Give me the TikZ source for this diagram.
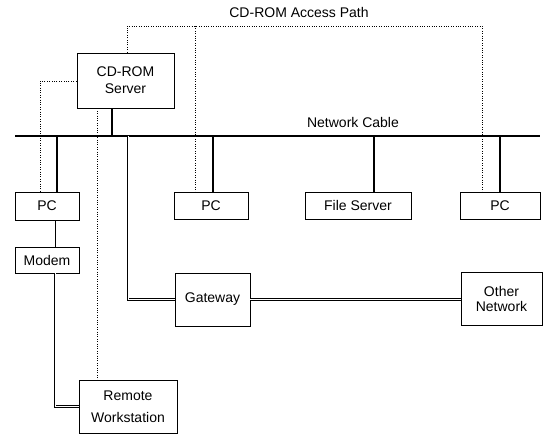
\documentclass[tikz,border=0pt]{standalone}
\usepackage{fontspec}
\setmainfont{Liberation Sans}
\begin{document}
\begin{tikzpicture}[x=1pt,y=-1pt,
  box/.style={draw,line width=0.8pt,inner sep=0pt,align=center,font=\fontsize{14}{17}\selectfont},
  lbl/.style={inner sep=0pt,font=\fontsize{14}{17}\selectfont},
  cable/.style={line width=2.4pt},
  tap/.style={line width=1.5pt},
  thin/.style={line width=0.9pt},
  dpath/.style={line width=0.9pt,dash pattern=on 1pt off 1.4pt},
  dbl/.style={line width=0.7pt,double,double distance=1pt}]
\useasboundingbox (0,0) rectangle (547,435);
% boxes
\node[box,minimum width=97pt,minimum height=55pt] (cdrom) at (125.5,80.5) {CD-ROM\\Server};
\node[box,minimum width=64pt,minimum height=28pt] (pc1) at (47,206) {PC};
\node[box,minimum width=74pt,minimum height=27pt] (pc2) at (211,205.5) {PC};
\node[box,minimum width=106pt,minimum height=27pt] (fs) at (358,205.5) {File Server};
\node[box,minimum width=80pt,minimum height=27pt] (pc3) at (500,205.5) {PC};
\node[box,minimum width=64pt,minimum height=26pt] (modem) at (47,260) {Modem};
\node[box,minimum width=98pt,minimum height=53pt,font=\fontsize{14}{22}\selectfont] (rw) at (128,406.5) {Remote\\Workstation};
\node[box,minimum width=75pt,minimum height=53pt] (gw) at (212.5,299.5) {Gateway};
\node[box,minimum width=81pt,minimum height=53pt,font=\fontsize{14}{15}\selectfont] (on) at (501.5,298.5) {Other\\Network};
% labels
\node[lbl] (title) at (299,13) {CD-ROM Access Path};
\node[lbl] (nc) at (353,123) {Network Cable};
% network cable
\coordinate (cL) at (15,136);
\coordinate (cR) at (540,136);
\draw[cable] (cL) -- (cR);
\coordinate (tS) at (112,136);
\coordinate (t1) at (57,136);
\coordinate (t2) at (213,136);
\coordinate (t3) at (374,136);
\coordinate (t4) at (500,136);
\coordinate (tG) at (128,136);
\draw[tap] (cdrom.south -| tS) -- (tS);
\draw[tap] (t1) -- (pc1.north -| t1);
\draw[tap] (t2) -- (pc2.north -| t2);
\draw[tap] (t3) -- (fs.north -| t3);
\draw[tap] (t4) -- (pc3.north -| t4);
% modem links
\coordinate (mx) at (55,0);
\draw[thin] (pc1.south -| mx) -- (modem.north -| mx);
\draw[dbl] (modem.south -| mx) |- (rw.west);
% gateway links
\draw[dbl] (tG) |- (gw.west);
\draw[dbl] (gw.east) -- (gw.east -| on.west);
% CD-ROM access path (dotted)
\coordinate (a1) at (127,26);
\coordinate (a2) at (195,26);
\coordinate (a3) at (482,26);
\draw[dpath] (cdrom.north -| a1) -- (a1) -- (a3) -- (pc3.north -| a3);
\draw[dpath] (a2) -- (pc2.north -| a2);
\coordinate (lx) at (40,81);
\draw[dpath] (cdrom.west |- lx) -- (lx) -- (pc1.north -| lx);
\coordinate (ix) at (97,0);
\draw[dpath] (cdrom.south -| ix) -- (rw.north -| ix);
\end{tikzpicture}
\end{document}
